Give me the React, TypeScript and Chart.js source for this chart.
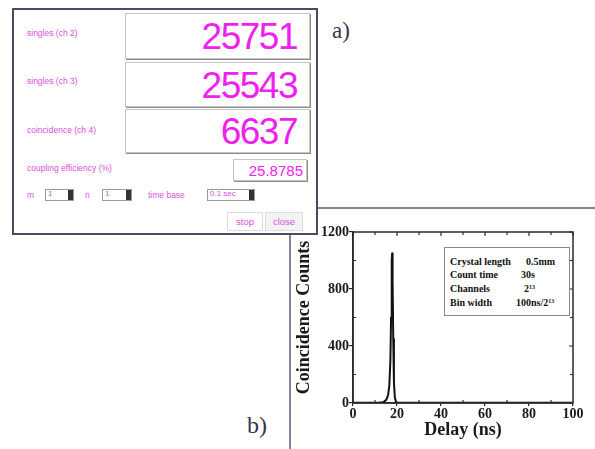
import React, { useEffect, useRef } from "react";
import { Chart, registerables } from "chart.js";

Chart.register(...registerables);

// ---------- data ----------
const delayNs = [0, 5, 10, 12, 13, 14, 15, 15.5, 16, 16.5, 17, 17.3, 17.6, 17.8, 18.0, 18.3, 18.6, 19, 19.5, 20, 22, 30, 40, 50, 60, 70, 80, 90, 100];
const counts = [1, 2, 2, 3, 4, 8, 20, 35, 60, 120, 300, 600, 1000, 1050, 850, 450, 150, 40, 10, 3, 2, 2, 1, 2, 1, 2, 1, 2, 1];
const xTicks = [0, 20, 40, 60, 80, 100];
const yTicks = [0, 400, 800, 1200];
const xMinor = [10, 30, 50, 70, 90];
const yMinor = [200, 600, 1000];

const infoLabels = ["Crystal length", "Count time", "Channels", "Bin width"];
const panelLabels = ["singles (ch 2)", "singles (ch 3)", "coincidence (ch 4)"];
const panelValues = ["25751", "25543", "6637"];
const efficiencyLabel = "coupling efficiency (%)";
const efficiencyValue = "25.8785";

const AXIS = "#2a2a2a";
const PINK = "#dc50dc";
const MAGENTA = "#f020f0";

const framePlugin = {
  id: "frame",
  afterDraw(chart: any) {
    const { ctx, chartArea: a, scales } = chart;
    const xs = scales.x;
    const ys = scales.y;
    ctx.save();
    ctx.strokeStyle = AXIS;
    ctx.lineWidth = 1.5;
    ctx.strokeRect(a.left, a.top, a.right - a.left, a.bottom - a.top);
    ctx.lineWidth = 1.2;
    ctx.beginPath();
    xTicks.forEach((v) => {
      const px = xs.getPixelForValue(v);
      ctx.moveTo(px, a.top);
      ctx.lineTo(px, a.top + 4);
    });
    yTicks.forEach((v) => {
      const py = ys.getPixelForValue(v);
      ctx.moveTo(a.right, py);
      ctx.lineTo(a.right - 4, py);
    });
    xMinor.forEach((v) => {
      const px = xs.getPixelForValue(v);
      ctx.moveTo(px, a.top);
      ctx.lineTo(px, a.top + 3);
      ctx.moveTo(px, a.bottom);
      ctx.lineTo(px, a.bottom - 3);
    });
    yMinor.forEach((v) => {
      const py = ys.getPixelForValue(v);
      ctx.moveTo(a.left, py);
      ctx.lineTo(a.left + 3, py);
      ctx.moveTo(a.right, py);
      ctx.lineTo(a.right - 3, py);
    });
    ctx.stroke();
    ctx.restore();
  },
};

function PlotB() {
  const ref = useRef<HTMLCanvasElement | null>(null);
  useEffect(() => {
    if (!ref.current) return;
    const tickFont = { family: "'Liberation Serif', 'Times New Roman', serif", size: 14, weight: "bold" as const };
    const titleFont = { family: "'Liberation Serif', 'Times New Roman', serif", size: 18, weight: "bold" as const };
    const chart = new Chart(ref.current, {
      type: "line",
      data: {
        datasets: [
          {
            data: delayNs.map((x, i) => ({ x, y: counts[i] })),
            borderColor: "#111",
            borderWidth: 2,
            borderJoinStyle: "round",
            pointRadius: 0,
            tension: 0,
            fill: false,
          },
        ],
      },
      options: {
        animation: false,
        responsive: false,
        maintainAspectRatio: false,
        layout: { padding: { top: 20, right: 22, left: 0, bottom: 0 } },
        plugins: { legend: { display: false }, tooltip: { enabled: false } },
        scales: {
          x: {
            type: "linear",
            min: 0,
            max: 100,
            afterFit: (s: any) => {
              s.height = 46;
            },
            afterBuildTicks: (s: any) => {
              s.ticks = xTicks.map((v) => ({ value: v }));
            },
            border: { display: true, color: AXIS, width: 1.5 },
            grid: { display: true, drawOnChartArea: false, drawTicks: true, tickLength: 3, color: AXIS, lineWidth: 1.2 },
            ticks: { font: tickFont, color: "#1a1a1a", padding: 0, maxRotation: 0, callback: (v: any) => String(v) },
            title: { display: true, text: "Delay (ns)", font: titleFont, color: "#1a1a1a", padding: { top: 0, bottom: 8 } },
          },
          y: {
            type: "linear",
            min: 0,
            max: 1200,
            afterFit: (s: any) => {
              s.width = 61;
            },
            afterBuildTicks: (s: any) => {
              s.ticks = yTicks.map((v) => ({ value: v }));
            },
            border: { display: true, color: AXIS, width: 1.5 },
            grid: { display: true, drawOnChartArea: false, drawTicks: true, tickLength: 4, color: AXIS, lineWidth: 1.2 },
            ticks: { font: tickFont, color: "#1a1a1a", padding: 0, callback: (v: any) => String(v) },
            title: { display: true, text: "Coincidence Counts", font: titleFont, color: "#1a1a1a", padding: { top: 2, bottom: 0 } },
          },
        },
      },
      plugins: [framePlugin],
    });
    return () => chart.destroy();
  }, []);
  return <canvas ref={ref} width={303} height={237} style={{ position: "absolute", left: 292, top: 212, width: 303, height: 237 }} />;
}

// panel content origin in page coordinates (panel left 12 / top 8, 2px border)
const OX = 14;
const OY = 10;
const pos = (l: number, t: number, w?: number, h?: number): React.CSSProperties => ({
  position: "absolute",
  left: l - OX,
  top: t - OY,
  ...(w !== undefined ? { width: w } : {}),
  ...(h !== undefined ? { height: h } : {}),
  boxSizing: "border-box",
});
const abs = (l: number, t: number, w?: number, h?: number): React.CSSProperties => ({
  position: "absolute",
  left: l,
  top: t,
  ...(w !== undefined ? { width: w } : {}),
  ...(h !== undefined ? { height: h } : {}),
  boxSizing: "border-box",
});

const SANS = "'Liberation Sans', Arial, sans-serif";

function Spinner({ l, w, text }: { l: number; w: number; text: string }) {
  return (
    <div style={{ ...pos(l, 189, w, 12), border: "1px solid #9a9a9a", background: "#fff" }}>
      <span style={{ position: "absolute", left: 2, top: -1, fontSize: 8, color: PINK, fontFamily: SANS }}>{text}</span>
      <div style={{ position: "absolute", right: 0, top: 0, width: 5, height: 10, background: "#333" }} />
    </div>
  );
}

function PanelA() {
  const boxTops = [13, 62, 109];
  const boxHeights = [46, 45, 44];
  const labelY = [33, 81, 130];
  const lbl = (t: string, l: number, cy: number, key?: string) => (
    <div key={key} style={{ ...pos(l, cy - 6, undefined, 12), fontFamily: SANS, fontSize: 8.5, color: PINK, lineHeight: "12px", whiteSpace: "nowrap" }}>{t}</div>
  );
  return (
    <div style={{ ...abs(12, 8, 306, 227), border: "2px solid #4f4a64", background: "#fff", zIndex: 2 }}>
      {panelLabels.map((t, i) => lbl(t, 27, labelY[i], "l" + i))}
      {panelValues.map((v, i) => (
        <div
          key={"b" + i}
          style={{
            ...pos(125, boxTops[i], 185, boxHeights[i]),
            border: "1px solid #c4c4c4",
            boxShadow: "1px 1px 0 #8c8c8c",
            background: "#fff",
            fontFamily: SANS,
            fontSize: 37,
            color: MAGENTA,
            textAlign: "right",
            paddingRight: 12,
            lineHeight: boxHeights[i] + "px",
            letterSpacing: -1.5,
          }}
        >
          {v}
        </div>
      ))}
      {lbl(efficiencyLabel, 27, 168)}
      <div
        style={{
          ...pos(233, 159, 74, 22),
          border: "1px solid #c4c4c4",
          boxShadow: "1px 1px 0 #8c8c8c",
          fontFamily: SANS,
          fontSize: 15,
          color: MAGENTA,
          textAlign: "right",
          paddingRight: 3,
          lineHeight: "21px",
        }}
      >
        {efficiencyValue}
      </div>
      {lbl("m", 27, 195)}
      {lbl("n", 85, 195)}
      {lbl("time base", 148, 195)}
      <Spinner l={45} w={29} text="1" />
      <Spinner l={102} w={30} text="1" />
      <Spinner l={207} w={48} text="0.1 sec" />
      <div style={{ ...pos(227, 212, 36, 19), border: "1px solid #dcdcdc", background: "#fff", fontFamily: SANS, fontSize: 9.5, color: PINK, textAlign: "center", lineHeight: "17px" }}>stop</div>
      <div style={{ ...pos(265, 212, 38, 19), border: "1px solid #dcdcdc", background: "#f3f3f3", fontFamily: SANS, fontSize: 9.5, color: PINK, textAlign: "center", lineHeight: "17px" }}>close</div>
    </div>
  );
}

function InfoBox() {
  const serif = "'Liberation Serif', 'Times New Roman', serif";
  const rowY = [256, 269, 283, 297];
  const valX = [526, 521, 524, 516];
  const supStyle: React.CSSProperties = { fontSize: 6, verticalAlign: "top", position: "relative", top: -2 };
  const values: React.ReactNode[] = [
    "0.5mm",
    "30s",
    <span>2<sup style={supStyle}>13</sup></span>,
    <span>100ns/2<sup style={supStyle}>13</sup></span>,
  ];
  return (
    <div style={{ ...abs(444, 247, 126, 69), border: "1.5px solid #8a8a8a", background: "#fff", zIndex: 3 }}>
      {infoLabels.map((t, i) => (
        <React.Fragment key={i}>
          <div style={{ position: "absolute", left: 450 - 445, top: rowY[i] - 248, fontFamily: serif, fontWeight: "bold", fontSize: 10, color: "#111", lineHeight: "12px", whiteSpace: "nowrap" }}>{t}</div>
          <div style={{ position: "absolute", left: valX[i] - 445, top: rowY[i] - 248, fontFamily: serif, fontWeight: "bold", fontSize: 10, color: "#111", lineHeight: "12px", whiteSpace: "nowrap" }}>{values[i]}</div>
        </React.Fragment>
      ))}
    </div>
  );
}

export default function App() {
  const serif = "'Liberation Serif', 'Times New Roman', serif";
  return (
    <div style={{ position: "fixed", left: 0, top: 0, width: 595, height: 449, background: "#fff", overflow: "hidden" }}>
      <div style={{ ...abs(300, 207, 295, 2), background: "#8a8198" }} />
      <div style={{ ...abs(289, 220, 2, 229), background: "#8a8198" }} />
      <PanelA />
      <PlotB />
      <InfoBox />
      <div style={{ ...abs(332, 16), fontFamily: serif, fontSize: 23, color: "#3a3448", lineHeight: "30px" }}>a)</div>
      <div style={{ ...abs(247, 410), fontFamily: serif, fontSize: 24, color: "#3a3448", lineHeight: "30px" }}>b)</div>
    </div>
  );
}
